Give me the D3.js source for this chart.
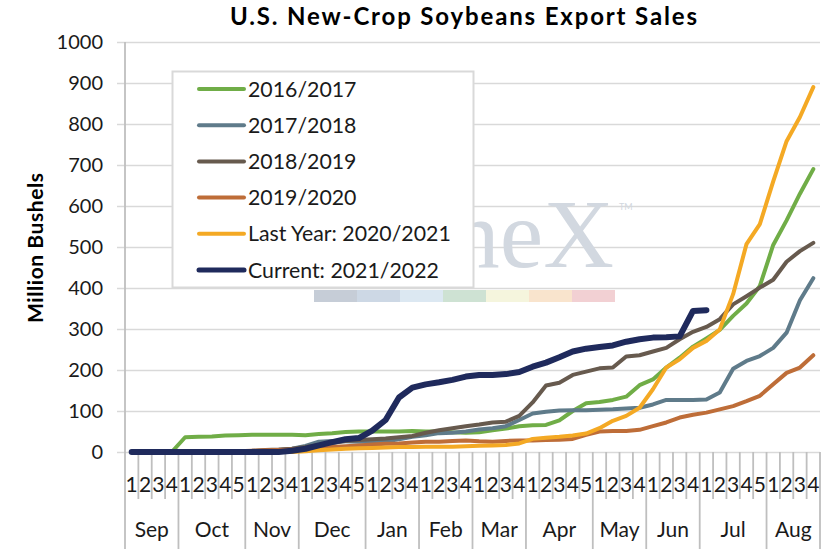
<!DOCTYPE html>
<html>
<head>
<meta charset="utf-8">
<script src="https://cdn.jsdelivr.net/npm/d3@7"></script>
<style>
  body { margin: 0; background: #fff; }
  svg { display: block; font-family: Lato, "Open Sans", sans-serif; }
</style>
</head>
<body>
<div id="chart"></div>
<script>
// marketing years, one value per week, million bushels
var months = ['Sep', 'Oct', 'Nov', 'Dec', 'Jan', 'Feb', 'Mar', 'Apr', 'May', 'Jun', 'Jul', 'Aug'];
var weeksPerMonth = [4, 5, 4, 5, 4, 4, 4, 5, 4, 4, 5, 4];
var yTicks = [0, 100, 200, 300, 400, 500, 600, 700, 800, 900, 1000];

var seriesNames = ['2016/2017', '2017/2018', '2018/2019', '2019/2020', 'Last Year: 2020/2021', 'Current: 2021/2022'];

var sales1617 = [0, 0, 0, 0, 36, 37, 38, 40, 41, 42, 42, 42, 42, 41, 44, 46, 49, 50, 50, 50, 50, 51, 50, 50, 48, 47,
    48, 53, 57, 63, 65, 66, 77, 100, 119, 122, 127, 135, 163, 177, 206, 230, 257, 277, 298, 332, 362, 405, 505, 565, 630, 690];
var sales1718 = [0, 0, 0, 0, 0, 0, 0, 0, 0, 0, 2, 4, 8, 15, 25, 27, 26, 25, 25, 26, 31, 37, 41, 46, 47, 50,
    55, 58, 63, 78, 94, 98, 101, 102, 102, 103, 104, 106, 108, 116, 127, 127, 127, 128, 145, 203, 222, 234, 254, 291, 370, 424];
var sales1819 = [0, 0, 0, 0, 0, 0, 0, 0, 2, 3, 5, 6, 8, 12, 17, 22, 27, 29, 31, 33, 36, 39, 47, 53, 58, 63,
    67, 72, 74, 88, 121, 162, 169, 188, 196, 204, 206, 233, 236, 245, 254, 275, 293, 305, 324, 360, 380, 401, 420, 464, 490, 510];
var sales1920 = [0, 0, 0, 0, 0, 0, 0, 1, 2, 3, 4, 5, 6, 8, 10, 12, 14, 16, 18, 20, 21, 23, 25, 25, 27, 28,
    26, 25, 27, 28, 28, 29, 30, 32, 42, 50, 51, 51, 54, 63, 72, 84, 91, 96, 104, 112, 124, 137, 165, 193, 206, 236];
var sales2021 = [0, 0, 0, 0, 0, 0, 0, 0, 0, 0, 0, 0, 0, 2, 4, 6, 8, 9, 10, 11, 12, 12, 13, 13, 13, 14,
    15, 16, 17, 21, 32, 35, 37, 40, 45, 58, 76, 88, 108, 153, 206, 226, 254, 271, 299, 385, 507, 556, 660, 758, 817, 890];
var sales2122 = [0, 0, 0, 0, 0, 0, 0, 0, 0, 0, 0, 0, 3, 8, 16, 24, 31, 34, 52, 78, 133, 157, 165, 170, 176, 184,
    188, 188, 190, 195, 208, 218, 231, 245, 252, 256, 260, 269, 275, 279, 280, 282, 344, 346];

var seriesColors = ['#70ad47', '#5f7b8a', '#675a4e', '#be6d38', '#f4a924', '#1f2a5c'];
var seriesWidths = [4, 4, 4, 4, 4, 6];
var stripeColors = ['#c6cdd7', '#cdd8e5', '#dce8f2', '#cee2d3', '#f5f5dd', '#f9e4cd', '#f2d0d3'];

function drawChart(cont) {
    var w = 829, h = 550;
    var left = 125, right = 820, top = 42, bottom = 452;
    var series = [sales1617, sales1718, sales1819, sales1920, sales2021, sales2122];

    var weekLabels = [];
    var monthStart = [];
    months.forEach(function (m, k) {
        monthStart.push(weekLabels.length);
        for (var j = 1; j <= weeksPerMonth[k]; ++j) weekLabels.push(j);
    });
    monthStart.push(weekLabels.length);

    var x = d3.scaleBand().domain(d3.range(weekLabels.length)).range([left, right]).padding(0);
    var y = d3.scaleLinear().domain([0, 1000]).range([bottom, top]);

    var svg = d3.select(cont).append('svg')
        .attr('width', w)
        .attr('height', h);

    // gridlines + y ticks
    svg.append('g')
        .attr('transform', 'translate(' + left + ',0)')
        .call(d3.axisLeft(y).tickValues(yTicks).tickSize(8).tickFormat(''))
        .call(function (g) {
            g.select('.domain').remove();
            g.selectAll('line').attr('stroke', '#d9d9d9').attr('stroke-width', 1.5)
                .attr('x2', -8).attr('x1', right - left);
        });

    // watermark (mostly hidden by the legend)
    var wm = svg.append('g').attr('class', 'watermark');
    wm.append('text')
        .attr('x', 614)
        .attr('y', 267)
        .attr('text-anchor', 'end')
        .attr('font-family', '"Liberation Serif", "DejaVu Serif", serif')
        .attr('font-size', 98)
        .attr('fill', '#d2d8e0')
        .text('neX');
    wm.append('text')
        .attr('x', 619)
        .attr('y', 210)
        .attr('font-size', 9)
        .attr('fill', '#d2d8e0')
        .text('TM');
    wm.selectAll('rect')
        .data(stripeColors)
        .enter().append('rect')
        .attr('x', function (d, i) { return 314 + i * 43; })
        .attr('y', 290)
        .attr('width', 43)
        .attr('height', 12)
        .attr('fill', function (d) { return d; });

    // y labels
    svg.append('g')
        .selectAll('text')
        .data(yTicks)
        .enter().append('text')
        .attr('x', 103)
        .attr('y', function (d) { return y(d) + 7; })
        .attr('text-anchor', 'end')
        .attr('font-size', 20)
        .attr('fill', '#1a1a1a')
        .text(function (d) { return d; });

    // x axis: left line, week ticks, month separators
    var ax = svg.append('g').attr('stroke', '#bfbfbf').attr('stroke-width', 1.8);
    ax.append('line').attr('x1', left).attr('x2', left).attr('y1', top).attr('y2', 549);
    ax.selectAll('line.wk')
        .data(d3.range(1, weekLabels.length))
        .enter().append('line')
        .attr('class', 'wk')
        .attr('x1', function (d) { return x(d); })
        .attr('x2', function (d) { return x(d); })
        .attr('y1', bottom)
        .attr('y2', function (d) { return monthStart.indexOf(d) >= 0 ? 549 : 499; });
    ax.append('line').attr('x1', right).attr('x2', right).attr('y1', bottom).attr('y2', 549);

    svg.append('g')
        .selectAll('text')
        .data(weekLabels)
        .enter().append('text')
        .attr('x', function (d, i) { return x(i) + x.bandwidth() / 2; })
        .attr('y', 492)
        .attr('text-anchor', 'middle')
        .attr('font-size', 21)
        .attr('fill', '#1a1a1a')
        .text(function (d) { return d; });

    svg.append('g')
        .selectAll('text')
        .data(months)
        .enter().append('text')
        .attr('x', function (d, k) { return (x(monthStart[k]) + x(monthStart[k + 1] - 1) + x.bandwidth()) / 2; })
        .attr('y', 537)
        .attr('text-anchor', 'middle')
        .attr('font-size', 21)
        .attr('fill', '#1a1a1a')
        .text(function (d) { return d; });

    // series lines
    var line = d3.line()
        .x(function (d, i) { return x(i) + x.bandwidth() / 2; })
        .y(function (d) { return y(d); });

    svg.append('g')
        .selectAll('path')
        .data(series)
        .enter().append('path')
        .attr('d', line)
        .attr('fill', 'none')
        .attr('stroke', function (d, i) { return seriesColors[i]; })
        .attr('stroke-width', function (d, i) { return seriesWidths[i]; })
        .attr('stroke-linejoin', 'round')
        .attr('stroke-linecap', 'round');

    // legend
    var lg = svg.append('g');
    lg.append('rect')
        .attr('x', 172.5)
        .attr('y', 71.5)
        .attr('width', 301)
        .attr('height', 216)
        .attr('fill', '#fff')
        .attr('stroke', '#d9d9d9')
        .attr('stroke-width', 2);
    var item = lg.selectAll('g.item')
        .data(seriesNames)
        .enter().append('g')
        .attr('class', 'item')
        .attr('transform', function (d, i) { return 'translate(0,' + (89 + i * 36.2) + ')'; });
    item.append('line')
        .attr('x1', 199).attr('x2', 244)
        .attr('stroke', function (d, i) { return seriesColors[i]; })
        .attr('stroke-width', function (d, i) { return i === 5 ? 5 : 4; })
        .attr('stroke-linecap', 'round');
    item.append('text')
        .attr('x', 248)
        .attr('y', 7.5)
        .attr('font-size', 21.3)
        .attr('fill', '#1a1a1a')
        .text(function (d) { return d; });

    // titles
    svg.append('text')
        .attr('x', 463.5)
        .attr('y', 25)
        .attr('text-anchor', 'middle')
        .attr('font-size', 24)
        .attr('font-weight', 'bold')
        .attr('textLength', 467)
        .attr('lengthAdjust', 'spacing')
        .attr('fill', '#000')
        .text('U.S. New-Crop Soybeans Export Sales');

    svg.append('text')
        .attr('transform', 'translate(43,248) rotate(-90)')
        .attr('text-anchor', 'middle')
        .attr('font-size', 21)
        .attr('font-weight', 'bold')
        .attr('textLength', 150)
        .attr('lengthAdjust', 'spacing')
        .attr('fill', '#000')
        .text('Million Bushels');
}

drawChart('#chart');
</script>
</body>
</html>
